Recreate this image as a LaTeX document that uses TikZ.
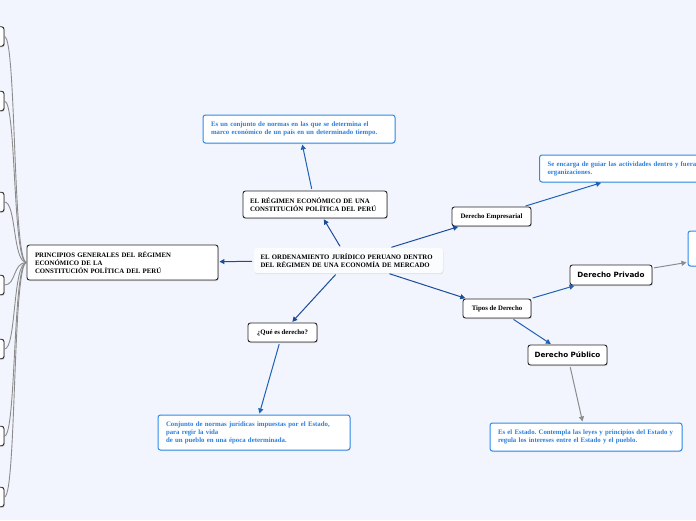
\documentclass[tikz,border=0pt]{standalone}
\usepackage{fontspec}
\setmainfont{Liberation Serif}
\newfontfamily\mapsans{DejaVu Sans}
\usetikzlibrary{arrows.meta}
\usetikzlibrary{shadows}
\frenchspacing

\definecolor{mapbg}{HTML}{F2F5FD}
\definecolor{linkdark}{HTML}{1B4C9A}
\definecolor{linkblue}{HTML}{1F62B3}
\definecolor{notebd}{HTML}{2E8BEB}
\definecolor{notetx}{HTML}{2A7FDB}
\definecolor{linkgray}{HTML}{8C8C8C}

\tikzset{
  topic/.style={draw=black!85, line width=0.9pt, rounded corners=2.5pt, fill=white,
    drop shadow={shadow xshift=0.8pt, shadow yshift=-1pt, opacity=0.3},
    font=\fontsize{6.8}{8}\selectfont\bfseries, inner sep=0pt, minimum height=19pt},
  maintopic/.style={fill=white!70!mapbg, rounded corners=3pt,
    drop shadow={shadow xshift=0.5pt, shadow yshift=-1.2pt, opacity=0.15},
    font=\fontsize{6.8}{8.5}\selectfont\bfseries, align=left, inner xsep=6.5pt, inner ysep=0pt,
    text width=176pt, minimum height=25pt},
  note/.style={draw=notebd, line width=1pt, rounded corners=2.5pt, fill=white, text=notetx,
    drop shadow={shadow xshift=0.6pt, shadow yshift=-1pt, opacity=0.2},
    font=\fontsize{6.8}{8}\selectfont\bfseries, align=left, inner xsep=8pt, inner ysep=0pt},
  sanstopic/.style={topic, font=\mapsans\fontsize{7.2}{8}\selectfont\bfseries},
  link/.style={->, linkblue, line width=1pt, shorten <=2pt, shorten >=1pt},
  mainlink/.style={link, linkdark},
  graylink/.style={link, linkgray},
}

\begin{document}
\begin{tikzpicture}[x=1pt, y=-1pt, line cap=round, line join=round, >={Triangle[length=5pt, width=5pt]}]
  \fill[mapbg] (0,0) rectangle (696,520);
  \useasboundingbox (0,0) rectangle (696,520);
  \clip (0,0) rectangle (696,520);
  % centre
  \node[maintopic] (centre) at (348.5,260.5)
    {EL ORDENAMIENTO JURÍDICO PERUANO DENTRO\\DEL RÉGIMEN DE UNA ECONOMÍA DE MERCADO};
  % topics
  \node[topic, inner xsep=7pt, text width=130pt, minimum height=27pt, align=left] (regimen) at (315,204.5)
    {EL RÉGIMEN ECONÓMICO DE UNA\\CONSTITUCIÓN POLÍTICA DEL PERÚ};
  \node[topic, inner xsep=8pt, text width=175pt, minimum height=35pt, align=left] (princ) at (122.5,262.5)
    {PRINCIPIOS GENERALES DEL RÉGIMEN\\ECONÓMICO DE LA\\CONSTITUCIÓN POLÍTICA DEL PERÚ};
  \node[topic, minimum width=79pt] (empres) at (491.5,216.5) {Derecho Empresarial};
  \node[topic, minimum width=68pt] (tipos) at (497,308.5) {Tipos de Derecho};
  \node[topic, minimum width=69pt] (quees) at (282.5,332.5) {¿Qué es derecho?};
  \node[sanstopic, minimum width=82pt, minimum height=20pt] (privado) at (611,275) {Derecho Privado};
  \node[sanstopic, minimum width=79pt, minimum height=20pt] (publico) at (567.5,355) {Derecho Público};
  % notes
  \node[note, text width=176pt, minimum height=28pt] (defreg) at (299,129)
    {Es un conjunto de normas en las que se determina el\\marco económico de un país en un determinado tiempo.};
  \node[note, text width=200pt, minimum height=27pt] (defemp) at (647.5,168.5)
    {Se encarga de guiar las actividades dentro y fuera\\organizaciones.};
  \node[note, text width=150pt, minimum height=35pt] (defpriv) at (771,248.5) {};
  \node[note, text width=176pt, minimum height=28pt] (defpub) at (586,437)
    {Es el Estado. Contempla las leyes y principios del Estado y\\regula los intereses entre el Estado y el pueblo.};
  \node[note, text width=176pt, minimum height=35pt] (defder) at (254,432.5)
    {Conjunto de normas jurídicas impuestas por el Estado,\\para regir la vida\\de un pueblo en una época determinada.};
  % left side
  \foreach \i/\y in {1/36.5, 2/101, 3/202, 4/285, 5/349, 6/436, 7/497} {
    \node[topic, minimum width=34pt, minimum height=19.5pt] (side\i) at (-13,\y) {};
    \draw[linkgray, line width=0.9pt] (side\i.east) .. controls +(12,0) and +(-14,0) .. (princ.west);
  }
  % connectors
  \draw[mainlink] (centre) -- (regimen);
  \draw[mainlink] (centre) -- (princ);
  \draw[mainlink] (centre) -- (empres);
  \draw[mainlink] (centre) -- (tipos);
  \draw[mainlink] (centre) -- (quees);
  \draw[link] (regimen) -- (defreg);
  \draw[link] (empres) -- (defemp);
  \draw[link] (tipos) -- (privado);
  \draw[link] (tipos) -- (publico);
  \draw[link] (quees) -- (defder);
  \draw[graylink] (privado) -- (defpriv);
  \draw[graylink] (publico) -- (defpub);
\end{tikzpicture}
\end{document}
